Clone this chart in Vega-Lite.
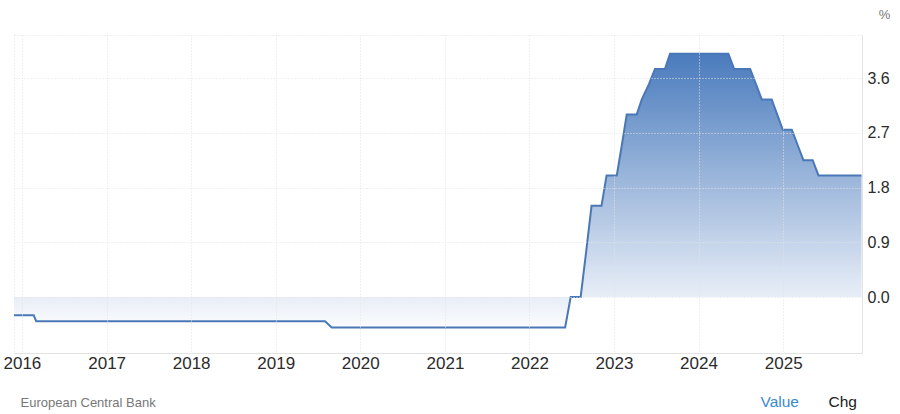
{
  "$schema": "https://vega.github.io/schema/vega-lite/v6.json",
  "width": 848,
  "height": 318,
  "autosize": {"type": "none"},
  "padding": {"left": 14, "top": 35, "right": 38, "bottom": 61},
  "background": "white",
  "config": {
    "font": "Liberation Sans",
    "view": {"stroke": "#e3e3e3", "strokeDash": [1, 2]}
  },
  "title": {
    "text": "Value",
    "orient": "bottom",
    "anchor": "end",
    "frame": "group",
    "dx": -63,
    "offset": -15,
    "font": "Liberation Sans",
    "fontSize": 15.5,
    "fontWeight": "normal",
    "color": "#3d8ad0"
  },
  "data": {
    "values": [
      {"date": "2015-11-28", "rate": -0.3},
      {"date": "2016-02-21", "rate": -0.3},
      {"date": "2016-03-03", "rate": -0.4},
      {"date": "2019-08-02", "rate": -0.4},
      {"date": "2019-08-31", "rate": -0.5},
      {"date": "2022-06-04", "rate": -0.5},
      {"date": "2022-06-28", "rate": 0},
      {"date": "2022-08-10", "rate": 0},
      {"date": "2022-09-03", "rate": 0.75},
      {"date": "2022-09-26", "rate": 1.5},
      {"date": "2022-11-08", "rate": 1.5},
      {"date": "2022-11-30", "rate": 2.0},
      {"date": "2023-01-13", "rate": 2.0},
      {"date": "2023-02-04", "rate": 2.5},
      {"date": "2023-02-25", "rate": 3.0},
      {"date": "2023-04-09", "rate": 3.0},
      {"date": "2023-05-01", "rate": 3.25},
      {"date": "2023-06-01", "rate": 3.5},
      {"date": "2023-06-27", "rate": 3.75},
      {"date": "2023-08-09", "rate": 3.75},
      {"date": "2023-08-31", "rate": 4.0},
      {"date": "2024-05-09", "rate": 4.0},
      {"date": "2024-06-03", "rate": 3.75},
      {"date": "2024-08-11", "rate": 3.75},
      {"date": "2024-09-05", "rate": 3.5},
      {"date": "2024-09-30", "rate": 3.25},
      {"date": "2024-11-12", "rate": 3.25},
      {"date": "2024-12-06", "rate": 3.0},
      {"date": "2024-12-30", "rate": 2.75},
      {"date": "2025-02-07", "rate": 2.75},
      {"date": "2025-03-04", "rate": 2.5},
      {"date": "2025-03-29", "rate": 2.25},
      {"date": "2025-05-08", "rate": 2.25},
      {"date": "2025-06-02", "rate": 2.0},
      {"date": "2025-12-05", "rate": 2.0}
    ]
  },
  "encoding": {
    "x": {
      "field": "date",
      "type": "temporal",
      "scale": {
        "type": "utc",
        "domain": [
          {"year": 2015, "month": 11, "date": 28, "utc": true},
          {"year": 2025, "month": 12, "date": 7, "utc": true}
        ]
      },
      "axis": {
        "values": [
          {"year": 2016, "month": 1, "date": 1, "utc": true},
          {"year": 2017, "month": 1, "date": 1, "utc": true},
          {"year": 2018, "month": 1, "date": 1, "utc": true},
          {"year": 2019, "month": 1, "date": 1, "utc": true},
          {"year": 2020, "month": 1, "date": 1, "utc": true},
          {"year": 2021, "month": 1, "date": 1, "utc": true},
          {"year": 2022, "month": 1, "date": 1, "utc": true},
          {"year": 2023, "month": 1, "date": 1, "utc": true},
          {"year": 2024, "month": 1, "date": 1, "utc": true},
          {"year": 2025, "month": 1, "date": 1, "utc": true}
        ],
        "format": "%Y",
        "labelFlush": false,
        "labelOverlap": false,
        "ticks": false,
        "labelPadding": 2,
        "labelFontSize": 17,
        "labelColor": "#2b2b2b",
        "domainColor": "#e3e3e3",
        "grid": true,
        "gridColor": "#e3e3e3",
        "gridDash": [1, 2],
        "title": "European Central Bank",
        "titleX": 6,
        "titleY": 49,
        "titleAlign": "left",
        "titleAnchor": "start",
        "titleBaseline": "middle",
        "titleFontSize": 13,
        "titleFontWeight": "normal",
        "titleColor": "#777777",
        "zindex": 1
      }
    }
  },
  "resolve": {"axis": {"y": "independent"}},
  "layer": [
    {
      "mark": {
        "type": "area",
        "line": false,
        "color": {
          "gradient": "linear",
          "x1": 0, "y1": 0, "x2": 0, "y2": 1,
          "stops": [
            {"offset": 0, "color": "#4a7bbd"},
            {"offset": 0.889, "color": "#e8eef7"},
            {"offset": 1, "color": "#fbfcfe"}
          ]
        }
      },
      "encoding": {
        "y": {
          "field": "rate",
          "type": "quantitative",
          "scale": {"domain": [-0.921, 4.309], "nice": false, "zero": false},
          "axis": {
            "orient": "right",
            "values": [0, 0.9, 1.8, 2.7, 3.6],
            "format": ".1f",
            "ticks": false,
            "labelPadding": 5,
            "labelFontSize": 16,
            "labelColor": "#2b2b2b",
            "domainColor": "#e3e3e3",
            "grid": true,
            "gridColor": "#e3e3e3",
            "gridDash": [1, 2],
            "title": "%",
            "titleAngle": 0,
            "titleX": 22,
            "titleY": -21,
            "titleAlign": "center",
            "titleBaseline": "middle",
            "titleFontSize": 13,
            "titleFontWeight": "normal",
            "titleColor": "#777777",
            "zindex": 1
          }
        },
        "y2": {"datum": 0}
      }
    },
    {
      "mark": {"type": "line", "color": "#4a78b6", "strokeWidth": 2},
      "encoding": {
        "y": {
          "field": "rate",
          "type": "quantitative",
          "scale": {"domain": [-0.921, 4.309], "nice": false, "zero": false},
          "axis": {
            "orient": "left",
            "labels": false,
            "ticks": false,
            "domain": false,
            "grid": false,
            "title": "Chg",
            "titleAngle": 0,
            "titleX": 814,
            "titleY": 366,
            "titleAlign": "left",
            "titleBaseline": "middle",
            "titleFontSize": 15.5,
            "titleFontWeight": "normal",
            "titleColor": "#222222"
          }
        }
      }
    }
  ]
}
